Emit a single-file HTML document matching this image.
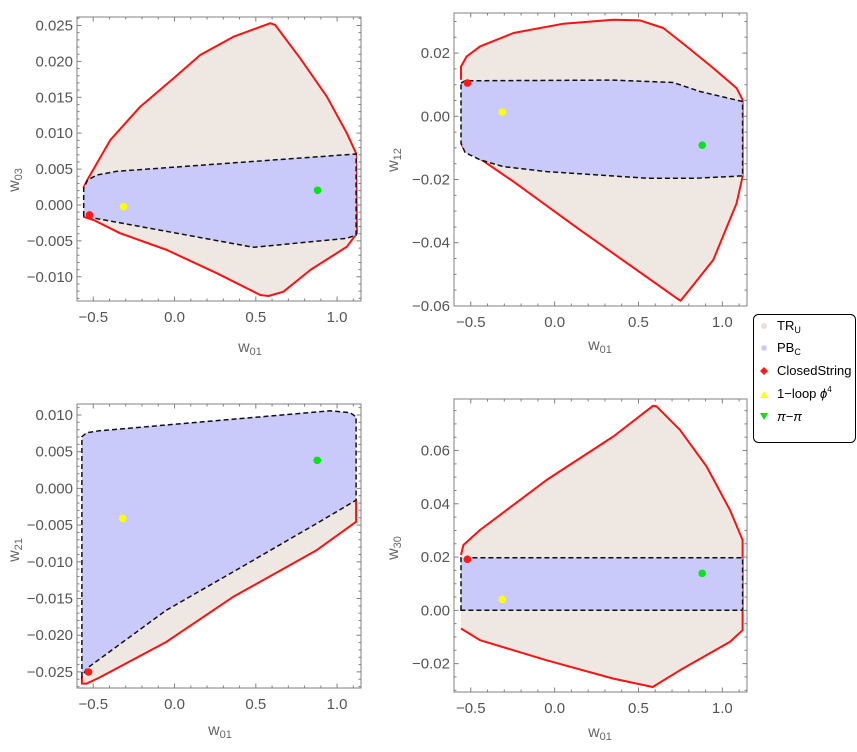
<!DOCTYPE html>
<html><head><meta charset="utf-8">
<style>
body{margin:0;background:#fff;}
svg{display:block;font-family:"Liberation Sans",sans-serif;}
</style></head>
<body>
<svg id="c" width="857" height="752" xmlns="http://www.w3.org/2000/svg"></svg>
<script>
const xTicks=[-0.5,0,0.5,1.0];
const xTickLabels=["\u22120.5","0.0","0.5","1.0"];
const pointNames=["ClosedString","1-loop","pi-pi"];
const pointColors=["#ff1a1a","#ffff00","#00e61a"];
// panel 1: w03
const p1Outer=[[-0.561,0.00237],[-0.530,0.00376],[-0.395,0.00905],[-0.211,0.01369],[-0.006,0.01765],[0.158,0.02089],[0.363,0.02344],[0.589,0.02531],[0.619,0.02507],[0.773,0.02043],[0.937,0.01508],[1.060,0.00999],[1.117,0.00720],[1.122,-0.00394],[1.060,-0.00581],[0.835,-0.00905],[0.670,-0.01208],[0.578,-0.01267],[0.527,-0.01253],[0.261,-0.00951],[-0.047,-0.00627],[-0.334,-0.00394],[-0.498,-0.00209],[-0.561,-0.00163]];
const p1Blue=[[-0.559,-0.00153],[-0.559,0.00233],[-0.535,0.00348],[-0.477,0.00418],[-0.354,0.00469],[1.117,0.00710],[1.117,-0.00418],[1.060,-0.00464],[0.486,-0.00589],[-0.531,-0.00167]];
const p1Points=[[-0.523,-0.00139],[-0.314,-0.00024],[0.880,0.00205]];
const p1YTicks=[-0.010,-0.005,0.000,0.005,0.010,0.015,0.020,0.025];
const p1YLabels=["\u22120.010","\u22120.005","0.000","0.005","0.010","0.015","0.020","0.025"];
// panel 2: w12
const p2Outer=[[-0.558,0.01156],[-0.558,0.01577],[-0.524,0.01894],[-0.445,0.02210],[-0.246,0.02634],[0.052,0.02929],[0.350,0.03056],[0.509,0.03034],[0.648,0.02793],[0.787,0.02210],[0.946,0.01526],[1.085,0.00893],[1.121,0.00522],[1.121,-0.01906],[1.085,-0.02749],[0.946,-0.04544],[0.827,-0.05336],[0.751,-0.05833],[0.737,-0.05789],[0.151,-0.03594],[-0.246,-0.02065],[-0.464,-0.01273],[-0.534,-0.01115],[-0.558,-0.00849]];
const p2Blue=[[-0.558,0.01051],[-0.534,0.01124],[0.350,0.01146],[0.707,0.01070],[0.867,0.00785],[1.121,0.00469],[1.121,-0.01884],[0.847,-0.01957],[0.549,-0.01957],[-0.047,-0.01748],[-0.306,-0.01590],[-0.445,-0.01377],[-0.534,-0.01146],[-0.558,-0.00849]];
const p2Points=[[-0.520,0.01051],[-0.312,0.00133],[0.880,-0.00912]];
const p2YTicks=[-0.06,-0.04,-0.02,0.00,0.02];
const p2YLabels=["\u22120.06","\u22120.04","\u22120.02","0.00","0.02"];
// panel 3: w21
const p3Outer=[[-0.570,-0.0257],[-0.570,-0.02659],[-0.541,-0.02659],[-0.463,-0.02577],[-0.051,-0.02092],[0.360,-0.01478],[0.875,-0.00841],[1.117,-0.00455],[1.117,-0.00160]];
const p3Cap=[[1.117,0.0098],[-0.570,0.007]];
const p3Blue=[[-0.570,-0.02569],[-0.570,0.00704],[-0.541,0.00758],[-0.463,0.00785],[0.957,0.01058],[1.080,0.01031],[1.117,0.00976],[1.117,-0.00160],[0.875,-0.00477],[0.360,-0.01137],[-0.051,-0.01660],[-0.541,-0.02455]];
const p3Points=[[-0.529,-0.02501],[-0.319,-0.00409],[0.878,0.00382]];
const p3YTicks=[-0.025,-0.020,-0.015,-0.010,-0.005,0.000,0.005,0.010];
const p3YLabels=["\u22120.025","\u22120.020","\u22120.015","\u22120.010","\u22120.005","0.000","0.005","0.010"];
// panel 4: w30
const p4Outer=[[-0.558,0.02077],[-0.544,0.02453],[-0.445,0.03017],[-0.047,0.04898],[0.350,0.06528],[0.588,0.07682],[0.608,0.07656],[0.747,0.06780],[0.906,0.05399],[1.045,0.03770],[1.121,0.02641],[1.121,-0.00745],[1.045,-0.01185],[0.747,-0.02250],[0.585,-0.02878],[0.350,-0.02562],[-0.047,-0.01874],[-0.445,-0.01121],[-0.558,-0.00681]];
const p4Blue=[[-0.558,0],[-0.558,0.01975],[1.121,0.01975],[1.121,0]];
const p4Points=[[-0.520,0.01915],[-0.312,0.00410],[0.880,0.01388]];
const p4YTicks=[-0.02,0.00,0.02,0.04,0.06];
const p4YLabels=["\u22120.02","0.00","0.02","0.04","0.06"];

const NS="http://www.w3.org/2000/svg";
const svg=document.getElementById('c');
function mk(tag,attrs,parent){const e=document.createElementNS(NS,tag);for(const k in attrs)e.setAttribute(k,attrs[k]);(parent||svg).appendChild(e);return e;}

const panels=[
 {id:'w03',box:[77,17,361,301],yd:[-0.01337,0.02618],outer:p1Outer,beige:p1Outer,blue:p1Blue,pts:p1Points,yt:p1YTicks,yl:p1YLabels,ym:0.001,xl:[250,352],ylab:[14,180]},
 {id:'w12',box:[454,13,747,306],yd:[-0.06001,0.03268],outer:p2Outer,beige:p2Outer,blue:p2Blue,pts:p2Points,yt:p2YTicks,yl:p2YLabels,ym:0.005,xl:[600,350],ylab:[393,160]},
 {id:'w21',box:[77,404,361,688],yd:[-0.02719,0.0115],outer:p3Outer,beige:p3Outer.concat(p3Cap),blue:p3Blue,pts:p3Points,yt:p3YTicks,yl:p3YLabels,ym:0.001,xl:[220,735],ylab:[14,550]},
 {id:'w30',box:[454,399,747,692],yd:[-0.03066,0.07935],outer:p4Outer,beige:p4Outer,blue:p4Blue,pts:p4Points,yt:p4YTicks,yl:p4YLabels,ym:0.005,xl:[600,737],ylab:[393,548]}
];
const xd=[-0.6,1.147];
panels.forEach(p=>{
 const [x0,y0,x1,y1]=p.box;
 const sx=v=>x0+(v-xd[0])/(xd[1]-xd[0])*(x1-x0);
 const sy=v=>y1-(v-p.yd[0])/(p.yd[1]-p.yd[0])*(y1-y0);
 const g=mk('g',{});
 
 
 const pts=a=>a.map(d=>sx(d[0]).toFixed(1)+','+sy(d[1]).toFixed(1)).join(' ');
 const be=mk('polygon',{points:pts(p.beige),fill:'#efe7e1',stroke:'none'},g);
 
 
 const rl=mk('polyline',{points:pts(p.outer),fill:'none',stroke:'#ff1010','stroke-width':2,'stroke-linejoin':'round'},g);
 
 
 const bl=mk('polygon',{points:pts(p.blue),fill:'#c9c9fa',stroke:'#111','stroke-width':1.5,'stroke-dasharray':'5,3'},g);
 
 
 p.pts.forEach((d,i)=>{
  const c=mk('circle',{cx:sx(d[0]),cy:sy(d[1]),r:3.8,fill:pointColors[i]},g);
  
  
 });
 const fr=mk('rect',{x:x0,y:y0,width:x1-x0,height:y1-y0,fill:'none',stroke:'#808080','stroke-width':1},g);
 
 
 let d='';
 for(let k=-6;k<=11;k++){const v=k/10;if(v<xd[0]||v>xd[1])continue;const X=sx(v);const L=(k%5===0)?4.5:2.5;d+=`M${X},${y1}v${-L}M${X},${y0}v${L}`;}
 for(let k=Math.ceil(p.yd[0]/p.ym);k*p.ym<=p.yd[1];k++){const v=k*p.ym;const Y=sy(v);const major=p.yt.some(t=>Math.abs(t-v)<p.ym/10);const L=major?4.5:2.5;d+=`M${x0},${Y}h${L}M${x1},${Y}h${-L}`;}
 const tk=mk('path',{d:d,stroke:'#808080','stroke-width':1,fill:'none'},g);
 
 
 xTicks.forEach((v,i)=>{const t=mk('text',{x:sx(v),y:y1+21,'text-anchor':'middle','font-size':15,fill:'#555'},g);t.textContent=xTickLabels[i];
  
  });
 p.yt.forEach((v,i)=>{const t=mk('text',{x:x0-4,y:sy(v)+5,'text-anchor':'end','font-size':15,fill:'#555'},g);t.textContent=p.yl[i];
  
  });
 const xt=mk('text',{x:p.xl[0],y:p.xl[1],'text-anchor':'middle','font-size':16,fill:'#666'},g);
 xt.innerHTML='w<tspan font-size="11" dy="3">01</tspan>';
 
 
 const yt=mk('text',{x:0,y:0,'text-anchor':'middle','font-size':16,fill:'#666',transform:`translate(${p.ylab[0]+5},${p.ylab[1]}) rotate(-90)`},g);
 yt.innerHTML='w<tspan font-size="11" dy="3">'+p.id.slice(1)+'</tspan>';
 
 
});
</script>
<svg style="position:absolute;left:0;top:0" width="857" height="752">
 <g font-family="Liberation Sans, sans-serif" font-size="13" fill="#000">
  <rect x="753.5" y="314.5" width="102" height="128" rx="5" fill="#fff" stroke="#000" stroke-width="1"/>
  <g><circle cx="764" cy="326" r="3" fill="#e8e0da"/><text x="777" y="330">TR<tspan font-size="9" dy="3">U</tspan></text></g>
  <g><rect x="761.5" y="345.5" width="5" height="5" fill="#c9c9fa"/><text x="777" y="352">PB<tspan font-size="9" dy="3">C</tspan></text></g>
  <g><polygon points="764,367 768,371 764,375 760,371" fill="#ff1a1a"/><text x="777" y="375">ClosedString</text></g>
  <g><polygon points="764,391 768,398 760,398" fill="#ffff00"/><text x="777" y="398">1−loop <tspan font-style="italic">ϕ</tspan><tspan font-size="8" dy="-6">4</tspan></text></g>
  <g><polygon points="760,413 768,413 764,420" fill="#00e61a"/><text x="777" y="421" font-style="italic">π−π</text></g>
 </g>
</svg>
</body></html>
